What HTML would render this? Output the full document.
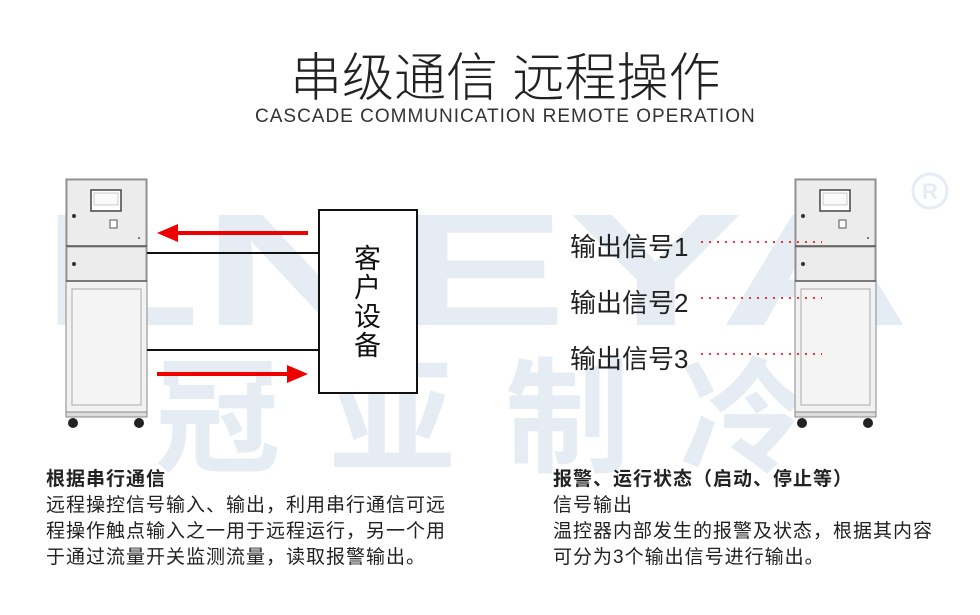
<!DOCTYPE html>
<html><head><meta charset="utf-8"><style>
body{margin:0;width:980px;height:615px;background:#fff;overflow:hidden;position:relative;font-family:"Liberation Sans","Noto Sans CJK SC",sans-serif;}
.t{position:absolute;white-space:nowrap;color:#222;}
</style></head><body>
<svg width="980" height="615" style="position:absolute;left:0;top:0">
<g fill="#e6ecf3" font-family="Liberation Sans, sans-serif" font-weight="bold">
<text x="40" y="325" font-size="160" textLength="870" lengthAdjust="spacingAndGlyphs">LNEYA</text>
<text x="155" y="462" font-size="125" font-family="Noto Sans CJK SC, sans-serif" textLength="650" lengthAdjust="spacing">冠亚制冷</text>
</g>
<circle cx="930" cy="191" r="17" fill="none" stroke="#e6ecf3" stroke-width="3"/>
<text x="930" y="199" font-size="22" fill="#e6ecf3" text-anchor="middle" font-family="Liberation Sans, sans-serif" font-weight="bold">R</text>
<defs>
<g id="cab">
<rect x="0" y="0" width="81" height="236" fill="#f2f2f2" stroke="#888" stroke-width="1"/>
<rect x="1" y="1" width="79" height="66" fill="#ececec" stroke="#999"/>
<rect x="1" y="68" width="79" height="34" fill="#ececec" stroke="#999"/>
<line x1="0" y1="67" x2="81" y2="67" stroke="#555" stroke-width="1.5"/>
<line x1="0" y1="102" x2="81" y2="102" stroke="#555" stroke-width="1.5"/>
<rect x="6" y="110" width="69" height="116" fill="#f4f4f4" stroke="#aaa"/>
<rect x="25" y="11" width="30" height="21" fill="#fff" stroke="#444" stroke-width="1.5"/>
<rect x="28" y="14" width="24" height="12" fill="#fafafa" stroke="#999" stroke-width=".5"/>
<circle cx="8" cy="37" r="2" fill="#333"/>
<circle cx="8" cy="85" r="2" fill="#333"/>
<rect x="44" y="41" width="7" height="8" fill="#fff" stroke="#555"/>
<circle cx="73" cy="59" r="1" fill="#555"/>
<rect x="0" y="233" width="81" height="5" fill="#ddd" stroke="#888"/>
<circle cx="7" cy="244" r="5" fill="#222"/>
<circle cx="73" cy="244" r="5" fill="#222"/>
</g>
</defs>
<use href="#cab" x="66" y="179"/>
<use href="#cab" x="795" y="179"/>
<rect x="319" y="210" width="98" height="183" fill="#fff" stroke="#111" stroke-width="2"/>
<line x1="147" y1="253" x2="319" y2="253" stroke="#111" stroke-width="2"/>
<line x1="147" y1="350" x2="319" y2="350" stroke="#111" stroke-width="2"/>
<line x1="175" y1="233" x2="308" y2="233" stroke="#e00" stroke-width="4"/>
<polygon points="157,233 178,224 178,242" fill="#e00"/>
<line x1="157" y1="374" x2="290" y2="374" stroke="#e00" stroke-width="4"/>
<polygon points="308,374 287,365 287,383" fill="#e00"/>
<g stroke="#e33" stroke-width="2" stroke-dasharray="2 6">
<line x1="701" y1="242" x2="822" y2="242"/>
<line x1="701" y1="298" x2="822" y2="298"/>
<line x1="701" y1="354" x2="822" y2="354"/>
</g>
</svg>
<div class="t" style="left:290px;top:36px;font-size:52px;font-weight:300;color:#222">串级通信 远程操作</div>
<div class="t" style="left:255px;top:106px;font-size:19px;color:#333;letter-spacing:1px">CASCADE COMMUNICATION REMOTE OPERATION</div>
<div class="t" style="left:354px;top:245px;width:30px;font-size:27px;line-height:29px;white-space:normal;color:#111">客户设备</div>
<div class="t" style="left:570px;top:227px;font-size:26px">输出信号1</div>
<div class="t" style="left:570px;top:283px;font-size:26px">输出信号2</div>
<div class="t" style="left:570px;top:339px;font-size:26px">输出信号3</div>
<div class="t" style="left:46px;top:467px;font-size:19px;line-height:26px;letter-spacing:1px;color:#222"><b>根据串行通信</b><br>远程操控信号输入、输出，利用串行通信可远<br>程操作触点输入之一用于远程运行，另一个用<br>于通过流量开关监测流量，读取报警输出。</div>
<div class="t" style="left:553px;top:467px;font-size:19px;line-height:26px;letter-spacing:1px;color:#222"><b>报警、运行状态（启动、停止等）</b><br>信号输出<br>温控器内部发生的报警及状态，根据其内容<br>可分为3个输出信号进行输出。</div>
</body></html>
